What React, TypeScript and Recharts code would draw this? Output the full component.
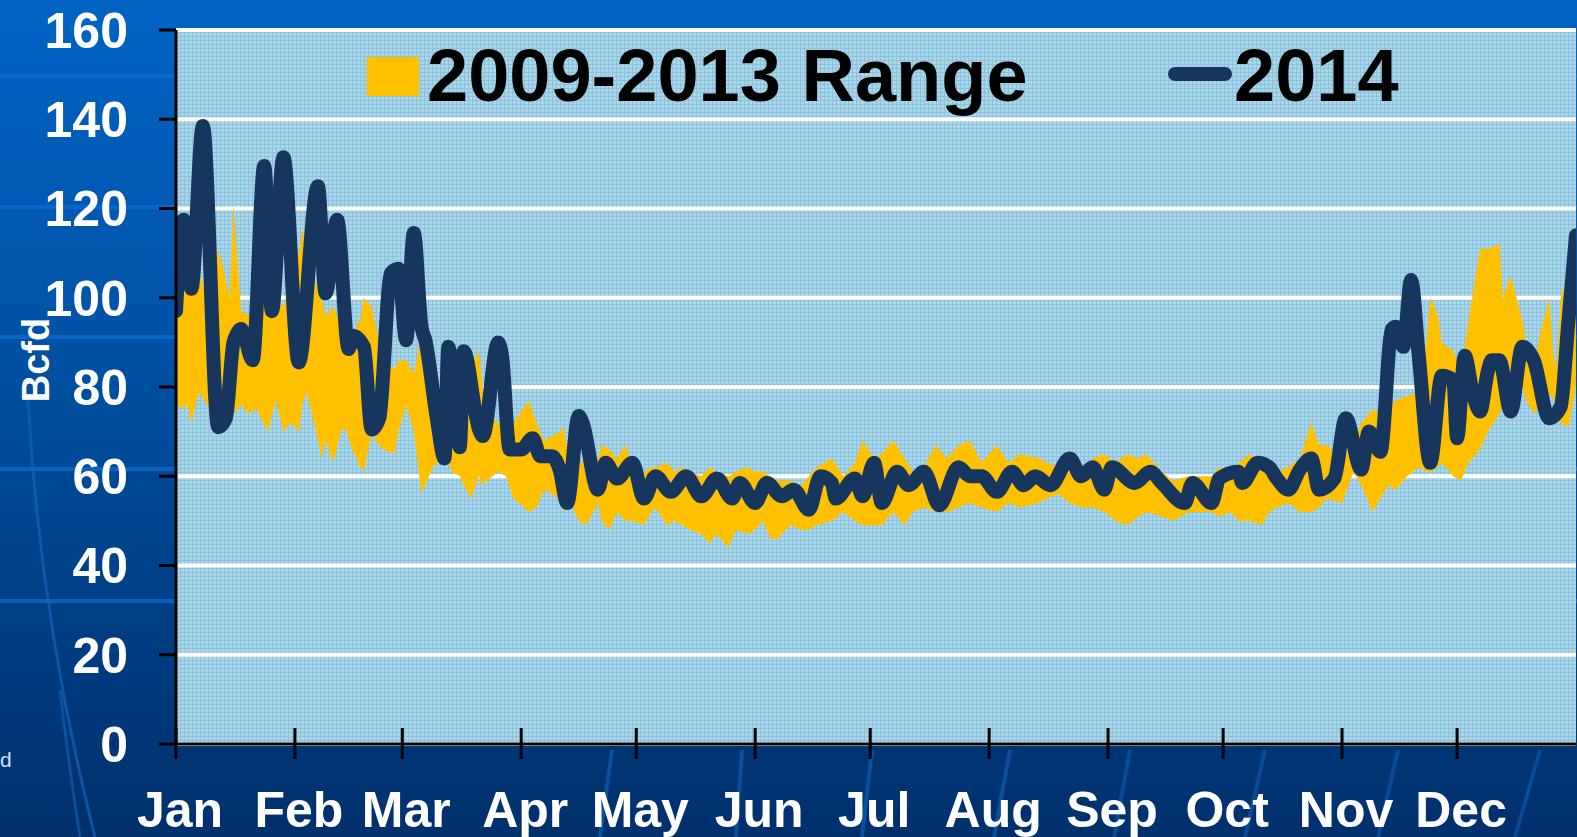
import { ComposedChart, Area, Line, XAxis, YAxis, CartesianGrid, Legend } from 'recharts';

// day of year for each reading of the 2014 line
const lineDays = [
  0, 2, 4, 7, 11, 13, 15, 17, 20, 23,
  25, 28, 32, 37, 39, 42, 45, 46, 49, 51,
  53, 56, 58, 60, 62, 64, 65, 68, 70, 71,
  74, 75, 79, 80, 84, 85, 87, 90, 93, 95,
  98, 100, 102, 105, 106, 110, 112, 115, 119, 122,
  125, 129, 133, 137, 141, 145, 147, 151, 154, 158,
  161, 165, 168, 171, 172, 177, 179, 182, 184, 188,
  191, 195, 199, 204, 207, 210, 214, 218, 221, 224,
  228, 233, 236, 239, 242, 244, 250, 254, 257, 263,
  265, 270, 272, 277, 278, 282, 285, 287, 290, 293,
  296, 298, 302, 305, 309, 311, 314, 317, 318, 320,
  322, 324, 327, 330, 333, 334, 336, 338, 340, 342,
  343, 345, 348, 351, 354, 358, 361, 363, 365,
];

const line2014 = [
  97, 117.5, 102, 138.5, 71, 73, 90, 93, 86, 129.5,
  97, 131.5, 85.5, 125, 101, 117.5, 88.5, 91.5, 89, 70.5,
  73, 105.5, 106.5, 90.5, 114.5, 93.5, 90.5, 73, 64, 89,
  66.5, 88, 70.5, 69, 90, 87, 66, 66, 68.5, 64.5,
  64.5, 61.5, 54, 73.5, 72, 57, 63, 59.5, 63, 55,
  60, 56.5, 60, 55.5, 59.5, 55, 58.5, 54, 58.5, 55.5,
  57, 52.5, 60, 58.5, 55, 59.5, 55.5, 63, 54, 61,
  58, 61, 53.5, 62, 60, 60, 56.5, 61, 58, 60,
  58, 64, 60, 62, 57, 62, 58.5, 61, 58.5, 54,
  58.5, 54, 59.5, 61, 58.5, 63, 62, 59.5, 57, 61.5,
  64, 57, 59.5, 73, 61.5, 70, 65.5, 93, 93.5, 89,
  104, 87, 63, 82.5, 81.5, 68.5, 87, 79, 74.5, 83.5,
  86, 86, 74.5, 89, 86, 73, 75.5, 94.5, 114,
];

// 2009-2013 range: day of year, lowest and highest value
const rangeDays = [
  0, 1, 3, 4, 6, 8, 10, 12, 14, 15,
  17, 19, 21, 24, 26, 28, 30, 32, 33, 34,
  36, 38, 39, 41, 43, 44, 46, 48, 49, 51,
  52, 54, 57, 58, 60, 62, 64, 66, 67, 69,
  71, 72, 74, 75, 77, 79, 80, 81, 84, 86,
  88, 92, 94, 96, 100, 101, 103, 105, 107, 110,
  111, 113, 115, 117, 119, 122, 124, 125, 128, 130,
  132, 134, 137, 139, 141, 144, 146, 149, 151, 153,
  155, 157, 160, 163, 165, 167, 171, 174, 177, 179,
  182, 184, 187, 190, 192, 195, 198, 201, 204, 207,
  210, 214, 217, 220, 225, 227, 230, 233, 236, 239,
  242, 245, 248, 251, 253, 257, 260, 264, 267, 270,
  272, 275, 277, 280, 283, 285, 287, 290, 293, 296,
  298, 300, 304, 307, 309, 312, 314, 316, 318, 321,
  324, 326, 327, 329, 330, 333, 335, 337, 340, 342,
  345, 346, 348, 351, 352, 354, 356, 358, 359, 360,
  361, 363, 365,
];

const rangeLow = [
  78, 75, 76, 72, 79, 76, 74, 78, 75, 74,
  76, 74, 75, 70, 77, 70, 72, 70, 76, 79,
  72, 64, 68, 63, 70, 71, 66, 62, 61, 70,
  68, 66, 65, 70, 76, 70, 56, 60, 62, 64,
  63, 61, 60, 58, 55, 60, 58, 59, 61, 60,
  55, 52, 53, 57, 55, 52, 54, 50, 49, 54,
  50, 48, 52, 50, 50, 49, 52, 53, 49, 50,
  49, 48, 47, 45, 47, 44, 48, 47, 48, 50,
  46, 46, 49, 48, 48, 49, 50, 52, 50, 49,
  49, 49, 52, 49, 52, 53, 52, 52, 53, 54,
  53, 52, 54, 53, 54, 55, 56, 54, 53, 53,
  52, 50, 49, 51, 52, 51, 50, 52, 52, 52,
  51, 52, 50, 50, 49, 52, 53, 54, 52, 52,
  53, 55, 54, 61, 58, 52, 55, 58, 57, 60,
  62, 61, 61, 62, 63, 60, 59, 63, 66, 70,
  74, 76, 78, 80, 77, 74, 76, 78, 78, 73,
  72, 71, 80,
];

const rangeHigh = [
  96, 100, 104, 108, 106, 100, 112, 108, 100, 121,
  97, 96, 103, 104, 100, 98, 104, 110, 115, 114,
  104, 100, 96, 98, 94, 95, 92, 95, 100, 98,
  94, 86, 84, 86, 86, 83, 92, 86, 82, 78,
  75, 74, 82, 78, 85, 88, 80, 74, 72, 70,
  72, 77, 72, 68, 70, 71, 62, 62, 65, 64,
  67, 66, 64, 67, 63, 61, 62, 62, 63, 61,
  62, 61, 60, 62, 61, 60, 61, 62, 61, 61,
  60, 59, 59, 58, 60, 62, 64, 60, 63, 68,
  64, 65, 68, 64, 61, 62, 67, 64, 67, 68,
  63, 67, 63, 65, 64, 63, 62, 63, 61, 64,
  65, 63, 65, 64, 65, 61, 59, 60, 60, 60,
  62, 61, 63, 65, 63, 62, 61, 62, 64, 72,
  67, 67, 64, 67, 72, 75, 74, 75, 77, 78,
  79, 90, 100, 96, 90, 88, 84, 95, 111, 111,
  112, 100, 105, 95, 90, 85, 93, 100, 88, 84,
  100, 106, 110,
];

const monthTicks = [0, 31, 59, 90, 120, 151, 181, 212, 243, 273, 304, 334];
const monthLabels = ['Jan', 'Feb', 'Mar', 'Apr', 'May', 'Jun', 'Jul', 'Aug', 'Sep', 'Oct', 'Nov', 'Dec'];
const yTicks = [0, 20, 40, 60, 80, 100, 120, 140, 160];

const rangeName = '2009-2013 Range';
const lineName = '2014';
const unitLabel = 'Bcfd';

const FONT = '"Liberation Sans", Arial, Helvetica, sans-serif';
const NAVY = '#17365d';
const GOLD = '#ffc000';

const rangeData = rangeDays.map((day, i) => ({ day, range: [rangeLow[i], rangeHigh[i]] }));
const lineData = lineDays.map((day, i) => ({ day, value: line2014[i] }));

function MonthTick(props: any) {
  const { x, y, payload } = props;
  const idx = monthTicks.indexOf(payload.value);
  return (
    <g>
      <line x1={x} x2={x} y1={y - 16} y2={y + 15} stroke="#000" strokeWidth={3} />
      <text
        x={x + 4}
        y={y + 83}
        textAnchor="middle"
        fill="#fff"
        fontSize={50}
        fontWeight="bold"
        fontFamily={FONT}
      >
        {monthLabels[idx]}
      </text>
    </g>
  );
}

function UnitLabel() {
  return (
    <text
      transform="translate(49, 360) rotate(-90)"
      textAnchor="middle"
      fill="#fff"
      fontSize={38}
      fontWeight="bold"
      fontFamily={FONT}
    >
      {unitLabel}
    </text>
  );
}

function LegendBox() {
  return (
    <svg width={1577} height={130} style={{ display: 'block' }}>
      <rect x={367} y={57} width={52} height={39} fill={GOLD} />
      <text x={427} y={101} fontSize={74} fontWeight="bold" fontFamily={FONT} fill="#000">
        {rangeName}
      </text>
      <line x1={1175} x2={1225} y1={74} y2={74} stroke={NAVY} strokeWidth={14} strokeLinecap="round" />
      <text x={1234} y={101} fontSize={74} fontWeight="bold" fontFamily={FONT} fill="#000">
        {lineName}
      </text>
    </svg>
  );
}

function Backdrop() {
  const bands = [76, 207, 337, 469, 601];
  return (
    <svg width={1577} height={837} style={{ position: 'absolute', left: 0, top: 0 }}>
      {bands.map((y) => (
        <rect key={y} x={0} y={y - 2} width={1577} height={4} fill="#0b6bd0" opacity={0.75} />
      ))}
      <path d="M 28 400 Q 40 620 95 837" stroke="#1463b8" strokeWidth={3} fill="none" opacity={0.7} />
      <path d="M 60 690 Q 68 760 80 837" stroke="#1463b8" strokeWidth={3} fill="none" opacity={0.6} />
      <path d="M 612 750 L 600 837" stroke="#0f5cb0" strokeWidth={4} fill="none" opacity={0.7} />
      <path d="M 742 750 L 736 837" stroke="#0f5cb0" strokeWidth={4} fill="none" opacity={0.7} />
      <path d="M 872 750 L 862 837" stroke="#0f5cb0" strokeWidth={4} fill="none" opacity={0.7} />
      <path d="M 1010 750 L 994 837" stroke="#0f5cb0" strokeWidth={4} fill="none" opacity={0.7} />
      <path d="M 1130 750 L 1114 837" stroke="#0f5cb0" strokeWidth={4} fill="none" opacity={0.6} />
      <path d="M 1265 750 L 1245 837" stroke="#0f5cb0" strokeWidth={4} fill="none" opacity={0.6} />
      <path d="M 1398 750 L 1378 837" stroke="#0f5cb0" strokeWidth={4} fill="none" opacity={0.6} />
      <path d="M 1540 750 L 1515 837" stroke="#0f5cb0" strokeWidth={4} fill="none" opacity={0.6} />
    </svg>
  );
}

export default function App() {
  return (
    <div
      style={{
        position: 'absolute',
        left: 0,
        top: 0,
        width: 1577,
        height: 837,
        overflow: 'hidden',
        background: 'linear-gradient(180deg, #0063c4 0%, #0052a6 40%, #003d83 75%, #00306c 100%)',
      }}
    >
      <Backdrop />
      <div style={{ position: 'absolute', left: 0, top: 0 }}>
        <ComposedChart width={1577} height={837} margin={{ top: 30, right: 1, bottom: 0, left: 0 }}>
          <defs>
            <pattern id="plotWeave" width={4} height={4} patternUnits="userSpaceOnUse">
              <rect width={4} height={4} fill="#a9d6e9" />
              <rect width={4} height={1} fill="#8cc2dc" />
              <rect width={1} height={4} fill="#8cc2dc" />
            </pattern>
          </defs>
          <CartesianGrid
            vertical={false}
            stroke="#fff"
            strokeWidth={4}
            strokeOpacity={1}
            fill="url(#plotWeave)"
            fillOpacity={1}
          />
          <XAxis
            dataKey="day"
            type="number"
            domain={[0, 365]}
            allowDataOverflow
            ticks={monthTicks}
            interval={0}
            tickSize={0}
            tickMargin={0}
            tickLine={false}
            tick={<MonthTick />}
            axisLine={{ stroke: '#000', strokeWidth: 3 }}
            height={93}
          />
          <YAxis
            type="number"
            domain={[0, 160]}
            ticks={yTicks}
            interval={0}
            width={176}
            tickSize={17}
            tickMargin={31}
            tickLine={{ stroke: '#000', strokeWidth: 3 }}
            axisLine={{ stroke: '#000', strokeWidth: 3 }}
            tick={{ fill: '#fff', fontSize: 50, fontWeight: 'bold', fontFamily: FONT }}
            label={{ content: () => <UnitLabel /> }}
          />
          <Legend
            layout="vertical"
            verticalAlign="middle"
            align="center"
            content={() => <LegendBox />}
            wrapperStyle={{ top: 0, left: 0, width: 1577, height: 130 }}
          />
          <Area
            data={rangeData}
            dataKey="range"
            type="linear"
            fill={GOLD}
            fillOpacity={1}
            stroke="none"
            isAnimationActive={false}
            name={rangeName}
          />
          <Line
            data={lineData}
            dataKey="value"
            type="monotone"
            stroke={NAVY}
            strokeWidth={14}
            strokeLinejoin="round"
            strokeLinecap="round"
            dot={false}
            activeDot={false}
            isAnimationActive={false}
            name={lineName}
          />
        </ComposedChart>
      </div>
      <div
        style={{
          position: 'absolute',
          left: 0,
          top: 748,
          color: '#d6e2f0',
          fontSize: 21,
          fontFamily: FONT,
        }}
      >
        d
      </div>
    </div>
  );
}
